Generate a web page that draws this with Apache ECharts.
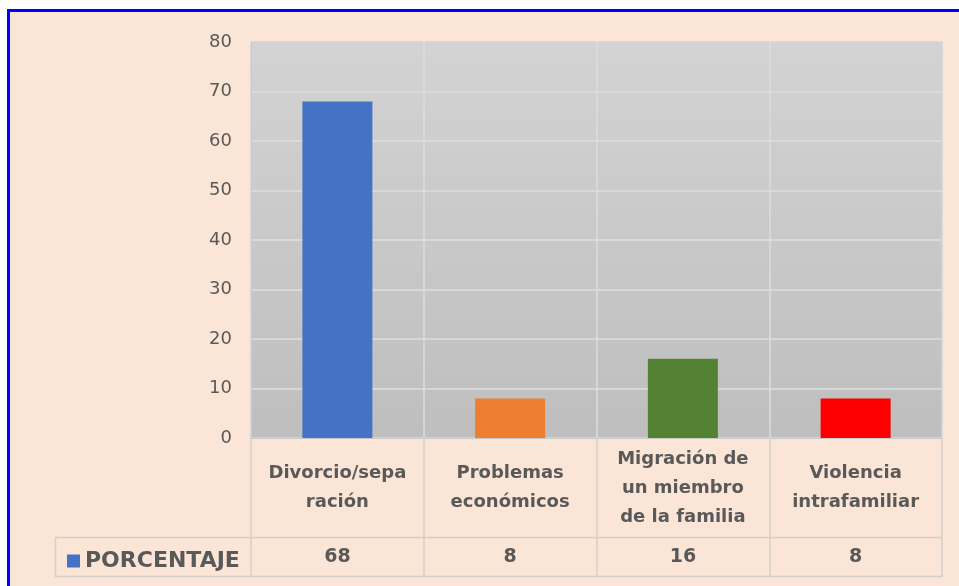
<!DOCTYPE html>
<html>
<head>
<meta charset="utf-8">
<script src="https://cdn.jsdelivr.net/npm/echarts@6/dist/echarts.min.js"></script>
<style>
  html, body { margin: 0; padding: 0; background: #fff; overflow: hidden; }
  body { width: 959px; height: 586px; position: relative; }
  .frame {
    position: absolute; left: 7px; top: 9px; right: 0; bottom: 0;
    border-left: 3px solid #0000ff;
    border-top: 3px solid #0000ff;
    background: #fbe5d6;
  }
  #chart { position: absolute; left: 0; top: 0; width: 959px; height: 586px; }
</style>
</head>
<body>
<div class="frame"></div>
<div id="chart"></div>
<script>
// categorias (con el salto de linea como en el original)
var categorias = [
  "Divorcio/sepa\nración",
  "Problemas\neconómicos",
  "Migración de\nun miembro\nde la familia",
  "Violencia\nintrafamiliar"
];
var porcentaje = [68, 8, 16, 8];
var colores = ["#4472c4", "#ed7d31", "#548235", "#ff0000"];
var serieNombre = "PORCENTAJE";

var chart = echarts.init(document.getElementById("chart"), null, { renderer: "canvas" });

var txt = "#595959";
var lineaTabla = "#d6cfc9";

var option = {
  backgroundColor: "transparent",
  animation: false,
  grid: {
    left: 251,
    right: 17,
    top: 42,
    bottom: 148,
    show: true,
    borderColor: "#a3a3a3",
    borderWidth: 1,
    backgroundColor: new echarts.graphic.LinearGradient(0, 0, 0, 1, [
      { offset: 0, color: "#d3d3d3" },
      { offset: 1, color: "#bebebe" }
    ])
  },
  legend: {
    data: [serieNombre],
    left: 62,
    top: 545,
    icon: "rect",
    itemWidth: 13,
    itemHeight: 13,
    itemGap: 6,
    textStyle: {
      fontFamily: "DejaVu Sans",
      fontWeight: "bold",
      fontSize: 22,
      color: txt
    }
  },
  xAxis: [
    {
      type: "category",
      data: categorias,
      position: "bottom",
      axisLine: { show: true, lineStyle: { color: "#c8c8c8", width: 1 } },
      axisTick: {
        show: true,
        interval: 0,
        length: 139,
        lineStyle: { color: lineaTabla, width: 1.5 }
      },
      splitLine: { show: true, interval: 0, lineStyle: { color: "#dcdcdc", width: 1.5 } },
      axisLabel: {
        interval: 0,
        margin: 50,
        verticalAlign: "middle",
        fontFamily: "DejaVu Sans",
        fontWeight: "bold",
        fontSize: 18,
        lineHeight: 29,
        color: txt
      }
    },
    {
      type: "category",
      data: porcentaje.map(String),
      position: "bottom",
      axisLine: { show: false },
      axisTick: { show: false },
      splitLine: { show: false },
      axisLabel: {
        interval: 0,
        margin: 119,
        verticalAlign: "middle",
        fontFamily: "DejaVu Sans",
        fontWeight: "bold",
        fontSize: 19,
        color: txt
      }
    }
  ],
  yAxis: {
    type: "value",
    min: 0,
    max: 80,
    interval: 10,
    axisLine: { show: true, lineStyle: { color: "#cdcdcd", width: 1 } },
    axisTick: { show: false },
    splitLine: { show: true, lineStyle: { color: "#dedede", width: 1.5 } },
    axisLabel: {
      margin: 19,
      fontFamily: "DejaVu Sans",
      fontSize: 18,
      color: txt
    }
  },
  series: [
    {
      name: serieNombre,
      type: "bar",
      barWidth: 70,
      itemStyle: { color: colores[0] },
      data: porcentaje.map(function (v, i) {
        return { value: v, itemStyle: { color: colores[i] } };
      })
    }
  ],
  graphic: [
    // bordes de la fila de la tabla de datos
    { type: "line", shape: { x1: 55, y1: 537.5, x2: 942, y2: 537.5 }, style: { stroke: lineaTabla, lineWidth: 1.5 } },
    { type: "line", shape: { x1: 55, y1: 576.5, x2: 942, y2: 576.5 }, style: { stroke: lineaTabla, lineWidth: 1.5 } },
    { type: "line", shape: { x1: 55.5, y1: 537, x2: 55.5, y2: 577 }, style: { stroke: lineaTabla, lineWidth: 1.5 } }
  ]
};

chart.setOption(option);
</script>
</body>
</html>
